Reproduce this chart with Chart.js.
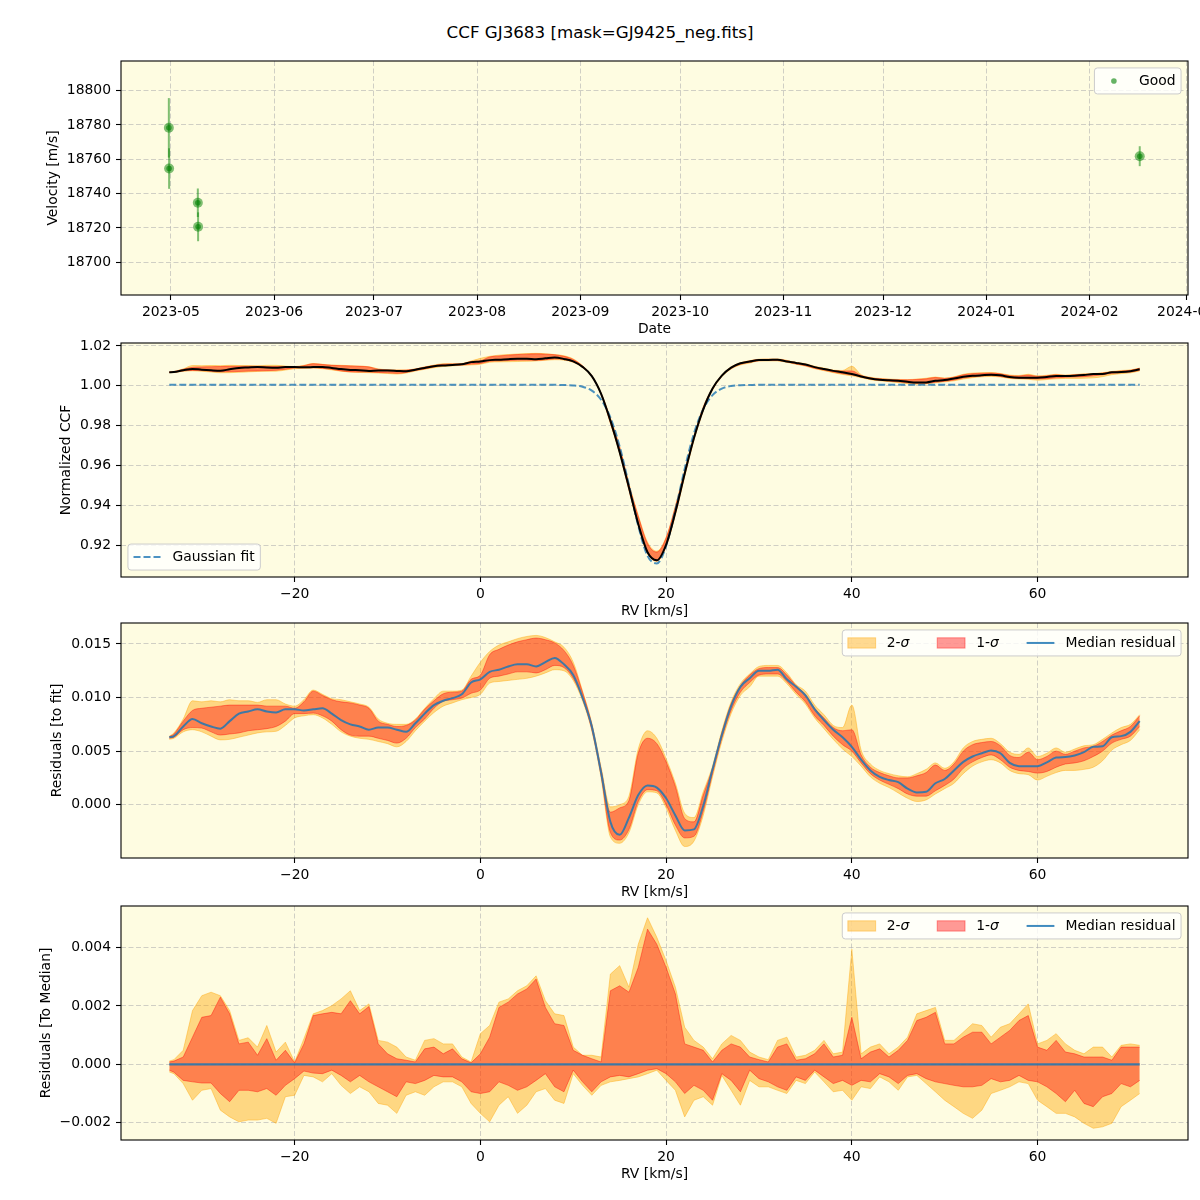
<!DOCTYPE html>
<html>
<head>
<meta charset="utf-8">
<script src="https://cdn.jsdelivr.net/npm/chart.js@4.4.1/dist/chart.umd.min.js"></script>
<style>
  html, body { margin: 0; padding: 0; background: #fff; }
  #page { position: relative; width: 1200px; height: 1200px; overflow: hidden; font-family: "DejaVu Sans", sans-serif; }
  #title { position: absolute; left: 0; top: 22px; width: 1200px; text-align: center; font-size: 16.7px; line-height: 20px; color: #000; }
  canvas { position: absolute; left: 0; }
</style>
</head>
<body>
<div id="page">
  <div id="title">CCF GJ3683 [mask=GJ9425_neg.fits]</div>
  <canvas id="velChart"></canvas>
  <canvas id="ccfChart"></canvas>
  <canvas id="resChart"></canvas>
  <canvas id="devChart"></canvas>
</div>
<script>
// ---- velocity panel ----
const velDates = ['2023-04-30T09:00:00Z', '2023-04-30T11:00:00Z', '2023-05-09T02:00:00Z', '2023-05-09T04:00:00Z', '2024-02-16T02:00:00Z'];
const velValues = [18778.3, 18754.6, 18734.7, 18720.7, 18761.8];
const velErrors = [17.3, 11.8, 8.3, 8.4, 5.8];
const velTicks = [18700, 18720, 18740, 18760, 18780, 18800];
const monthTicks = ['2023-05', '2023-06', '2023-07', '2023-08', '2023-09', '2023-10', '2023-11', '2023-12', '2024-01', '2024-02', '2024-03'];

// ---- RV grid (km/s) ----
const rv = [-33.5, -33, -32, -31, -30, -29, -28, -27, -26, -25,
  -24, -23, -22, -21, -20, -19, -18, -17, -16, -15,
  -14, -13, -12, -11, -10, -9, -8, -7, -6, -5,
  -4, -3, -2, -1, 0, 1, 2, 3, 4, 5,
  6, 7, 8, 9, 10, 11, 12, 13, 14, 15,
  16, 17, 18, 19, 20, 21, 22, 23, 24, 25,
  26, 27, 28, 29, 30, 31, 32, 33, 34, 35,
  36, 37, 38, 39, 40, 41, 42, 43, 44, 45,
  46, 47, 48, 49, 50, 51, 52, 53, 54, 55,
  56, 57, 58, 59, 60, 61, 62, 63, 64, 65,
  66, 67, 68, 69, 70, 71];

// Gaussian fit of the CCF
const gaussFit = [1.0005, 1.0005, 1.0005, 1.0005, 1.0005, 1.0005, 1.0005, 1.0005, 1.0005, 1.0005,
  1.0005, 1.0005, 1.0005, 1.0005, 1.0005, 1.0005, 1.0005, 1.0005, 1.0005, 1.0005,
  1.0005, 1.0005, 1.0005, 1.0005, 1.0005, 1.0005, 1.0005, 1.0005, 1.0005, 1.0005,
  1.0005, 1.0005, 1.0005, 1.0005, 1.0005, 1.0005, 1.0005, 1.0005, 1.0005, 1.0005,
  1.0005, 1.0005, 1.0005, 1.0004, 1.0002, 0.9995, 0.9976, 0.9930, 0.9841, 0.9695,
  0.9501, 0.9297, 0.9146, 0.9108, 0.9196, 0.9376, 0.9583, 0.9761, 0.9883, 0.9953,
  0.9986, 0.9999, 1.0003, 1.0004, 1.0005, 1.0005, 1.0005, 1.0005, 1.0005, 1.0005,
  1.0005, 1.0005, 1.0005, 1.0005, 1.0005, 1.0005, 1.0005, 1.0005, 1.0005, 1.0005,
  1.0005, 1.0005, 1.0005, 1.0005, 1.0005, 1.0005, 1.0005, 1.0005, 1.0005, 1.0005,
  1.0005, 1.0005, 1.0005, 1.0005, 1.0005, 1.0005, 1.0005, 1.0005, 1.0005, 1.0005,
  1.0005, 1.0005, 1.0005, 1.0005, 1.0005, 1.0005];

// residuals to the fit: median, 1-sigma and 2-sigma envelopes
const resMedian = [0.0063, 0.0064, 0.0073, 0.0080, 0.0076, 0.0073, 0.0071, 0.0078, 0.0085, 0.0087,
  0.0089, 0.0087, 0.0086, 0.0089, 0.0089, 0.0088, 0.0089, 0.0090, 0.0085, 0.0079,
  0.0075, 0.0073, 0.0070, 0.0072, 0.0072, 0.0070, 0.0068, 0.0076, 0.0085, 0.0093,
  0.0097, 0.00995, 0.0103, 0.0114, 0.0117, 0.0124, 0.0126, 0.0129, 0.0131, 0.0131,
  0.0129, 0.0133, 0.0137, 0.0131, 0.0121, 0.0100, 0.0073, 0.0030, -0.0016, -0.0028,
  -0.0012, 0.0009, 0.0018, 0.0016, 0.0006, -0.0010, -0.0024, -0.0023, -0.0001, 0.0033,
  0.0065, 0.0092, 0.0110, 0.0118, 0.0125, 0.0125, 0.0126, 0.0117, 0.0110, 0.0102,
  0.0089, 0.0079, 0.0070, 0.0063, 0.0054, 0.0042, 0.0032, 0.0026, 0.0023, 0.0021,
  0.0015, 0.00115, 0.0012, 0.0020, 0.0024, 0.0032, 0.0040, 0.0045, 0.0048, 0.00505,
  0.0048, 0.0039, 0.0036, 0.0036, 0.0036, 0.00395, 0.0044, 0.00445, 0.0046, 0.0049,
  0.0054, 0.00545, 0.0063, 0.0064, 0.0068, 0.0078];
const res2Hi = [0.0064, 0.0067, 0.0080, 0.0097, 0.0096, 0.0097, 0.0096, 0.0098, 0.0097, 0.0097,
  0.00955, 0.0098, 0.0098, 0.0094, 0.0092, 0.0098, 0.0107, 0.0103, 0.0099, 0.0098,
  0.0096, 0.0094, 0.0091, 0.0080, 0.0076, 0.0075, 0.0075, 0.0080, 0.0090, 0.0099,
  0.0106, 0.0106, 0.0107, 0.0120, 0.0133, 0.0143, 0.0149, 0.0152, 0.0155, 0.0157,
  0.0158, 0.0156, 0.0152, 0.0147, 0.0133, 0.0106, 0.0076, 0.0035, -0.0002, 0.0000,
  0.0008, 0.0052, 0.0069, 0.0062, 0.0043, 0.0020, -0.0008, -0.0012, 0.0012, 0.0036,
  0.0069, 0.0096, 0.0113, 0.0122, 0.0129, 0.0130, 0.0130, 0.0123, 0.0112, 0.0106,
  0.0093, 0.0084, 0.0074, 0.0072, 0.0093, 0.0051, 0.0038, 0.0032, 0.0029, 0.0027,
  0.0026, 0.0029, 0.0033, 0.0039, 0.0034, 0.0040, 0.0053, 0.0059, 0.0061, 0.0062,
  0.0057, 0.0049, 0.0047, 0.0053, 0.0045, 0.0048, 0.0053, 0.0049, 0.0052, 0.0055,
  0.0056, 0.0061, 0.0067, 0.0072, 0.0075, 0.0084];
const res1Hi = [0.00635, 0.0066, 0.0078, 0.0088, 0.0090, 0.0091, 0.0092, 0.0093, 0.0093, 0.0093,
  0.0093, 0.0092, 0.0092, 0.0092, 0.0090, 0.0096, 0.0106, 0.0102, 0.0098, 0.0096,
  0.0095, 0.0093, 0.0090, 0.0078, 0.0075, 0.0073, 0.0074, 0.0079, 0.0089, 0.0097,
  0.01035, 0.0105, 0.0106, 0.0117, 0.0121, 0.0140, 0.0145, 0.0149, 0.0152, 0.0154,
  0.01555, 0.0154, 0.0151, 0.0144, 0.0130, 0.0105, 0.0075, 0.0033, -0.0007, -0.0003,
  0.0004, 0.0048, 0.0062, 0.0057, 0.0040, 0.0017, -0.0013, -0.0016, 0.0009, 0.0034,
  0.0067, 0.0094, 0.0111, 0.0121, 0.0127, 0.0128, 0.0128, 0.0121, 0.0111, 0.0103,
  0.0090, 0.0081, 0.0072, 0.0069, 0.0070, 0.00465, 0.0035, 0.0030, 0.0027, 0.0025,
  0.0025, 0.0027, 0.0030, 0.0037, 0.0032, 0.0038, 0.0050, 0.0056, 0.0058, 0.0059,
  0.0055, 0.0046, 0.0044, 0.0049, 0.0042, 0.0045, 0.0050, 0.0047, 0.0050, 0.0053,
  0.00545, 0.0059, 0.0065, 0.0069, 0.0073, 0.0083];
const res1Lo = [0.0062, 0.0063, 0.0070, 0.0072, 0.00715, 0.0068, 0.0065, 0.0066, 0.0067, 0.0069,
  0.0070, 0.0071, 0.0073, 0.0078, 0.0085, 0.0085, 0.00855, 0.0083, 0.0078, 0.0070,
  0.0065, 0.0064, 0.0064, 0.0062, 0.0060, 0.00575, 0.0062, 0.0072, 0.0080, 0.0090,
  0.00965, 0.0098, 0.00995, 0.0104, 0.0107, 0.0118, 0.0120, 0.0122, 0.0124, 0.0124,
  0.0123, 0.0126, 0.0130, 0.0128, 0.0118, 0.0099, 0.0070, 0.0027, -0.0026, -0.0033,
  -0.0023, 0.0003, 0.0014, 0.0013, 0.0000, -0.0019, -0.0031, -0.00295, -0.0006, 0.0029,
  0.0062, 0.0088, 0.0105, 0.0114, 0.0121, 0.0122, 0.0122, 0.0115, 0.0105, 0.0096,
  0.0083, 0.0074, 0.0064, 0.0056, 0.0050, 0.0039, 0.0029, 0.0023, 0.0019, 0.0015,
  0.0010, 0.0008, 0.0008, 0.0013, 0.0018, 0.0024, 0.0034, 0.0040, 0.0044, 0.00465,
  0.0042, 0.0035, 0.0032, 0.0031, 0.00295, 0.0031, 0.0035, 0.0038, 0.0039, 0.0041,
  0.0045, 0.0050, 0.00575, 0.0061, 0.0064, 0.0073];
const res2Lo = [0.0061, 0.0062, 0.0068, 0.0070, 0.0068, 0.0064, 0.00605, 0.0061, 0.0063, 0.0065,
  0.0067, 0.0068, 0.00685, 0.0074, 0.0081, 0.0083, 0.0084, 0.0081, 0.0075, 0.0068,
  0.0064, 0.0062, 0.0061, 0.0059, 0.0057, 0.0054, 0.0059, 0.0069, 0.0078, 0.0086,
  0.0092, 0.0095, 0.0098, 0.0100, 0.0103, 0.01135, 0.0115, 0.0116, 0.0117, 0.0118,
  0.0120, 0.0123, 0.0126, 0.0125, 0.0116, 0.0097, 0.0069, 0.0025, -0.0030, -0.0036,
  -0.0026, 0.0000, 0.0012, 0.0011, -0.0003, -0.0024, -0.0039, -0.0034, -0.0010, 0.0026,
  0.0059, 0.0085, 0.0102, 0.0110, 0.0120, 0.0120, 0.0120, 0.0113, 0.0103, 0.0094,
  0.0081, 0.0071, 0.0061, 0.0052, 0.0045, 0.0036, 0.0026, 0.0020, 0.0016, 0.0011,
  0.0006, 0.0003, 0.00045, 0.0010, 0.0015, 0.0020, 0.0029, 0.0036, 0.0040, 0.0042,
  0.0039, 0.0032, 0.0029, 0.0028, 0.0023, 0.00265, 0.0030, 0.0032, 0.0032, 0.0033,
  0.0035, 0.0041, 0.0051, 0.0056, 0.0060, 0.0070];

// residuals to the median: envelopes around zero
const devLine = [0, 0];
const devLineRv = [-33.5, 71];
const dev2Hi = [0.00011, 0.00016, 0.00048, 0.00184, 0.00235, 0.00247, 0.00235, 0.00184, 0.00082, 0.00091,
  0.00059, 0.00133, 0.00042, 0.00076, 0.00008, 0.00088, 0.00173, 0.00184, 0.00201, 0.00224,
  0.00252, 0.00184, 0.00207, 0.00082, 0.00076, 0.00059, 0.00025, 0.00014, 0.00082, 0.00088,
  0.00070, 0.00070, 0.00025, 0.00008, 0.00105, 0.00133, 0.00213, 0.00224, 0.00252, 0.00269,
  0.00303, 0.00218, 0.00173, 0.00167, 0.00059, 0.00031, 0.00031, 0.00025, 0.00309, 0.00338,
  0.00264, 0.00411, 0.00502, 0.00435, 0.00355, 0.00264, 0.00127, 0.00082, 0.00059, 0.00019,
  0.00070, 0.00099, 0.00082, 0.00042, 0.00025, 0.00016, 0.00082, 0.00093, 0.00025, 0.00031,
  0.00048, 0.00082, 0.00036, 0.00042, 0.00394, 0.00036, 0.00059, 0.00070, 0.00036, 0.00059,
  0.00093, 0.00173, 0.00184, 0.00195, 0.00082, 0.00082, 0.00110, 0.00139, 0.00133, 0.00093,
  0.00127, 0.00139, 0.00173, 0.00207, 0.00070, 0.00082, 0.00105, 0.00070, 0.00048, 0.00036,
  0.00059, 0.00059, 0.00025, 0.00065, 0.00070, 0.00065];
const dev1Hi = [0.00008, 0.00011, 0.00025, 0.00093, 0.00161, 0.00167, 0.00230, 0.00173, 0.00070, 0.00076,
  0.00031, 0.00088, 0.00014, 0.00048, 0.00005, 0.00070, 0.00167, 0.00173, 0.00178, 0.00173,
  0.00218, 0.00173, 0.00198, 0.00070, 0.00036, 0.00019, 0.00014, 0.00008, 0.00053, 0.00059,
  0.00036, 0.00053, 0.00019, 0.00005, 0.00036, 0.00093, 0.00195, 0.00213, 0.00241, 0.00258,
  0.00292, 0.00195, 0.00139, 0.00133, 0.00048, 0.00031, 0.00019, 0.00008, 0.00252, 0.00269,
  0.00247, 0.00332, 0.00463, 0.00411, 0.00332, 0.00241, 0.00070, 0.00059, 0.00048, 0.00008,
  0.00048, 0.00070, 0.00059, 0.00025, 0.00016, 0.00008, 0.00059, 0.00070, 0.00014, 0.00019,
  0.00036, 0.00070, 0.00025, 0.00031, 0.00161, 0.00019, 0.00042, 0.00053, 0.00025, 0.00048,
  0.00082, 0.00150, 0.00161, 0.00178, 0.00070, 0.00070, 0.00093, 0.00110, 0.00110, 0.00070,
  0.00093, 0.00116, 0.00150, 0.00167, 0.00059, 0.00048, 0.00082, 0.00042, 0.00036, 0.00025,
  0.00025, 0.00025, 0.00014, 0.00059, 0.00059, 0.00059];
const dev1Lo = [-0.00020, -0.00027, -0.00055, -0.00060, -0.00064, -0.00064, -0.00100, -0.00128, -0.00089, -0.00089,
  -0.00094, -0.00083, -0.00106, -0.00072, -0.00049, -0.00023, -0.00030, -0.00032, -0.00020, -0.00038,
  -0.00060, -0.00038, -0.00060, -0.00077, -0.00094, -0.00111, -0.00060, -0.00066, -0.00055, -0.00038,
  -0.00043, -0.00043, -0.00060, -0.00094, -0.00100, -0.00094, -0.00060, -0.00072, -0.00089, -0.00077,
  -0.00055, -0.00032, -0.00077, -0.00094, -0.00020, -0.00060, -0.00094, -0.00060, -0.00043, -0.00038,
  -0.00043, -0.00032, -0.00020, -0.00015, -0.00032, -0.00060, -0.00100, -0.00072, -0.00089, -0.00123,
  -0.00032, -0.00055, -0.00094, -0.00020, -0.00049, -0.00060, -0.00077, -0.00089, -0.00043, -0.00055,
  -0.00020, -0.00043, -0.00066, -0.00055, -0.00072, -0.00055, -0.00060, -0.00032, -0.00043, -0.00066,
  -0.00038, -0.00032, -0.00049, -0.00060, -0.00066, -0.00072, -0.00077, -0.00077, -0.00072, -0.00049,
  -0.00060, -0.00055, -0.00038, -0.00055, -0.00060, -0.00077, -0.00100, -0.00128, -0.00089, -0.00134,
  -0.00145, -0.00111, -0.00100, -0.00066, -0.00077, -0.00055];
const dev2Lo = [-0.00026, -0.00032, -0.00066, -0.00123, -0.00089, -0.00083, -0.00157, -0.00180, -0.00197, -0.00191,
  -0.00191, -0.00185, -0.00202, -0.00111, -0.00106, -0.00038, -0.00043, -0.00060, -0.00032, -0.00072,
  -0.00100, -0.00077, -0.00094, -0.00134, -0.00140, -0.00168, -0.00106, -0.00094, -0.00106, -0.00077,
  -0.00060, -0.00060, -0.00077, -0.00134, -0.00168, -0.00197, -0.00140, -0.00111, -0.00168, -0.00140,
  -0.00094, -0.00083, -0.00123, -0.00134, -0.00032, -0.00072, -0.00106, -0.00072, -0.00060, -0.00055,
  -0.00049, -0.00043, -0.00032, -0.00020, -0.00055, -0.00089, -0.00180, -0.00123, -0.00111, -0.00140,
  -0.00038, -0.00089, -0.00140, -0.00055, -0.00077, -0.00077, -0.00089, -0.00100, -0.00055, -0.00066,
  -0.00026, -0.00060, -0.00094, -0.00089, -0.00123, -0.00077, -0.00083, -0.00043, -0.00060, -0.00089,
  -0.00043, -0.00038, -0.00066, -0.00094, -0.00123, -0.00145, -0.00168, -0.00185, -0.00157, -0.00100,
  -0.00089, -0.00077, -0.00060, -0.00066, -0.00123, -0.00145, -0.00168, -0.00168, -0.00180, -0.00202,
  -0.00219, -0.00214, -0.00202, -0.00145, -0.00123, -0.00100];

const ccfTicks = [0.92, 0.94, 0.96, 0.98, 1.00, 1.02];
const resTicks = [0.000, 0.005, 0.010, 0.015];
const devTicks = [-0.002, 0.000, 0.002, 0.004];
const rvTicks = [-20, 0, 20, 40, 60];

// ---- look ----
const FONT = '"DejaVu Sans", sans-serif';
const FS = 13.9;
const AXES_BG = '#fefce1';
const GRID = 'rgba(176,176,176,0.6)';
const ORANGE = 'rgba(255,165,0,0.42)';
const RED = 'rgba(255,0,0,0.4)';
const BLUE = 'rgba(31,119,180,0.85)';
const GREEN = 'rgba(0,128,0,0.5)';
const PLOT_LEFT = 121;
const PLOT_RIGHT = 1188;
const X_AXIS_H = 43;

const minus = s => String(s).replace('-', '\u2212');
const day = s => Date.parse(s) / 864e5;
const pts = (xs, ys) => xs.map((x, i) => ({ x, y: ys[i] }));

const axesFrame = {
  id: 'axesFrame',
  beforeDraw(chart) {
    const { ctx, chartArea: a } = chart;
    ctx.save();
    ctx.fillStyle = AXES_BG;
    ctx.fillRect(a.left, a.top, a.right - a.left, a.bottom - a.top);
    ctx.restore();
  },
  afterDatasetsDraw(chart) {
    const { ctx, chartArea: a } = chart;
    ctx.save();
    ctx.strokeStyle = '#000';
    ctx.lineWidth = 1.1;
    ctx.strokeRect(a.left, a.top, a.right - a.left, a.bottom - a.top);
    ctx.restore();
  }
};

function labelWidth(ctx, it) {
  ctx.font = FS + 'px ' + FONT;
  let w = ctx.measureText(it.text).width;
  if (it.italic) {
    ctx.font = 'italic ' + FS + 'px ' + FONT;
    w += ctx.measureText(it.italic).width;
  }
  return w;
}

const boxLegend = {
  id: 'boxLegend',
  afterDraw(chart, args, opts) {
    if (!opts.items) return;
    const { ctx, chartArea: a } = chart;
    const pad = 0.4 * FS, hl = 2 * FS, htp = 0.8 * FS, colsp = 2 * FS, inset = 0.5 * FS;
    ctx.save();
    const widths = opts.items.map(it => labelWidth(ctx, it));
    const w = 2 * pad + widths.reduce((s, x) => s + hl + htp + x, 0) + colsp * (opts.items.length - 1);
    const h = 26;
    const x0 = opts.loc === 'll' ? a.left + inset : a.right - inset - w;
    const y0 = opts.loc === 'll' ? a.bottom - inset - h : a.top + inset;
    const r = 3;
    ctx.beginPath();
    ctx.moveTo(x0 + r, y0);
    ctx.arcTo(x0 + w, y0, x0 + w, y0 + h, r);
    ctx.arcTo(x0 + w, y0 + h, x0, y0 + h, r);
    ctx.arcTo(x0, y0 + h, x0, y0, r);
    ctx.arcTo(x0, y0, x0 + w, y0, r);
    ctx.closePath();
    ctx.fillStyle = 'rgba(255,255,255,0.8)';
    ctx.fill();
    ctx.strokeStyle = '#cccccc';
    ctx.lineWidth = 1;
    ctx.stroke();

    const cy = y0 + h / 2;
    let x = x0 + pad;
    opts.items.forEach((it, i) => {
      ctx.setLineDash([]);
      if (it.handle === 'patch') {
        ctx.fillStyle = it.color;
        ctx.strokeStyle = it.color;
        ctx.lineWidth = 1;
        ctx.fillRect(x, cy - 0.37 * FS, hl, 0.74 * FS);
        ctx.strokeRect(x, cy - 0.37 * FS, hl, 0.74 * FS);
      } else if (it.handle === 'line' || it.handle === 'dash') {
        ctx.strokeStyle = it.color;
        ctx.lineWidth = 2;
        if (it.handle === 'dash') ctx.setLineDash([7, 3]);
        ctx.beginPath();
        ctx.moveTo(x, cy);
        ctx.lineTo(x + hl, cy);
        ctx.stroke();
      } else if (it.handle === 'dot') {
        ctx.fillStyle = it.color;
        ctx.beginPath();
        ctx.arc(x + hl / 2, cy, 2.8, 0, Math.PI * 2);
        ctx.fill();
      }
      let tx = x + hl + htp;
      ctx.fillStyle = '#000';
      ctx.textBaseline = 'middle';
      ctx.textAlign = 'left';
      ctx.font = FS + 'px ' + FONT;
      ctx.fillText(it.text, tx, cy);
      if (it.italic) {
        tx += ctx.measureText(it.text).width;
        ctx.font = 'italic ' + FS + 'px ' + FONT;
        ctx.fillText(it.italic, tx, cy);
      }
      x += hl + htp + widths[i] + colsp;
    });
    ctx.restore();
  }
};

const gridOpts = { color: GRID, lineWidth: 1, drawTicks: true, tickLength: 5, tickColor: '#000', tickWidth: 1.1 };
const borderOpts = { display: false, dash: [5, 2.5] };
const tickFont = { family: FONT, size: FS };
const titleFont = { family: FONT, size: FS, lineHeight: 1.2 };

function xAxis(min, max, tickVals, fmt, title) {
  return {
    type: 'linear', position: 'bottom', min, max,
    afterBuildTicks: s => { s.ticks = tickVals.map(v => ({ value: v })); },
    afterFit: s => { s.height = X_AXIS_H; s.paddingLeft = 0; s.paddingRight = 0; },
    ticks: { callback: fmt, color: '#000', font: tickFont, padding: 4, autoSkip: false, maxRotation: 0, minRotation: 0 },
    grid: gridOpts, border: borderOpts,
    title: { display: true, text: title, color: '#000', font: titleFont, padding: 0 }
  };
}

function yAxis(min, max, tickVals, fmt, title, width) {
  return {
    type: 'linear', position: 'left', min, max,
    afterBuildTicks: s => { s.ticks = tickVals.map(v => ({ value: v })); },
    afterFit: s => { s.width = width; s.paddingTop = 0; s.paddingBottom = 0; },
    ticks: { callback: fmt, color: '#000', font: tickFont, padding: 5, autoSkip: false },
    grid: gridOpts, border: borderOpts,
    title: { display: true, text: title, color: '#000', font: titleFont, padding: 0 }
  };
}

function makeChart(id, top, bottom, yTitleX, type, datasets, scales, legend) {
  const canvasTop = top - 12;
  const height = bottom - canvasTop + X_AXIS_H;
  const el = document.getElementById(id);
  el.width = 1200;
  el.height = height;
  el.style.top = canvasTop + 'px';
  el.style.width = '1200px';
  el.style.height = height + 'px';
  const padLeft = yTitleX - FS * 1.2 / 2;
  scales.y = yAxis(scales.y.min, scales.y.max, scales.y.ticks, scales.y.fmt, scales.y.title, PLOT_LEFT - padLeft);
  return new Chart(el, {
    type,
    data: { datasets },
    options: {
      responsive: false,
      devicePixelRatio: 1,
      animation: false,
      parsing: false,
      layout: { padding: { left: padLeft, right: 1200 - PLOT_RIGHT, top: top - canvasTop, bottom: 0 } },
      plugins: { legend: { display: false }, tooltip: { enabled: false }, boxLegend: legend },
      scales
    },
    plugins: [axesFrame, boxLegend]
  });
}

// smooth: monotone interpolation between the sampled points
function band(ys, color, fill, smooth) {
  return {
    type: 'line', data: pts(rv, ys), borderColor: color, backgroundColor: color, borderWidth: 1,
    pointRadius: 0, tension: 0, cubicInterpolationMode: smooth ? 'monotone' : 'default', fill
  };
}

function curve(xs, ys, color, width, smooth, dash) {
  return {
    type: 'line', data: pts(xs, ys), borderColor: color, borderWidth: width, borderDash: dash || [],
    pointRadius: 0, tension: 0, cubicInterpolationMode: smooth ? 'monotone' : 'default', fill: false
  };
}

// ---- panel 1: velocities ----
const velX = velDates.map(day);
const errorBars = velX.map((x, i) => ({
  type: 'line', showLine: true,
  data: [{ x, y: velValues[i] - velErrors[i] }, { x, y: velValues[i] + velErrors[i] }],
  borderColor: GREEN, borderWidth: 2, pointRadius: 0
}));
makeChart('velChart', 61, 295, 53, 'scatter', [
  { data: pts(velX, velValues), pointRadius: 2.8, pointBackgroundColor: 'rgba(0,128,0,0.6)', pointBorderWidth: 0 },
  { data: pts(velX, velValues), pointRadius: 5, pointBackgroundColor: GREEN, pointBorderWidth: 0 },
  ...errorBars
], {
  x: xAxis(day('2023-04-16T00:00:00Z'), day('2024-03-01T14:00:00Z'), monthTicks.map(m => day(m + '-01T00:00:00Z')),
    (v, i) => monthTicks[i], 'Date'),
  y: { min: 18681, max: 18817.2, ticks: velTicks, fmt: v => String(v), title: 'Velocity [m/s]' }
}, { loc: 'ur', items: [{ handle: 'dot', color: 'rgba(0,128,0,0.6)', text: 'Good' }] });

// ---- panel 2: CCF ----
const ccfMedian = gaussFit.map((f, i) => f + resMedian[i]);
const ccf1Hi = gaussFit.map((f, i) => f + res1Hi[i]);
const ccf1Lo = gaussFit.map((f, i) => f + res1Lo[i]);
const ccf2Hi = gaussFit.map((f, i) => f + res2Hi[i]);
const ccf2Lo = gaussFit.map((f, i) => f + res2Lo[i]);

makeChart('ccfChart', 343, 577, 66, 'line', [
  curve(rv, ccfMedian, '#000', 2, true),
  curve(rv, gaussFit, 'rgba(31,119,180,0.8)', 2, true, [7, 3]),
  band(ccf1Hi, RED, '+1', true), band(ccf1Lo, RED, false, true),
  band(ccf2Hi, ORANGE, '+1', true), band(ccf2Lo, ORANGE, false, true)
], {
  x: xAxis(-38.7, 76.2, rvTicks, v => minus(v), 'RV [km/s]'),
  y: { min: 0.904, max: 1.0215, ticks: ccfTicks, fmt: v => v.toFixed(2), title: 'Normalized CCF' }
}, { loc: 'll', items: [{ handle: 'dash', color: 'rgba(31,119,180,0.8)', text: 'Gaussian fit' }] });

const sigmaLegend = [
  { handle: 'patch', color: ORANGE, text: '2-', italic: 'σ' },
  { handle: 'patch', color: RED, text: '1-', italic: 'σ' },
  { handle: 'line', color: BLUE, text: 'Median residual' }
];

// ---- panel 3: residuals to fit ----
makeChart('resChart', 623, 858, 57, 'line', [
  curve(rv, resMedian, BLUE, 2, true),
  band(res1Hi, RED, '+1', true), band(res1Lo, RED, false, true),
  band(res2Hi, ORANGE, '+1', true), band(res2Lo, ORANGE, false, true)
], {
  x: xAxis(-38.7, 76.2, rvTicks, v => minus(v), 'RV [km/s]'),
  y: { min: -0.004975, max: 0.01696, ticks: resTicks, fmt: v => minus(v.toFixed(3)), title: 'Residuals [to fit]' }
}, { loc: 'ur', items: sigmaLegend });

// ---- panel 4: residuals to median ----
makeChart('devChart', 906, 1140, 46, 'line', [
  curve(devLineRv, devLine, BLUE, 2.2, false),
  band(dev1Hi, RED, '+1', false), band(dev1Lo, RED, false, false),
  band(dev2Hi, ORANGE, '+1', false), band(dev2Lo, ORANGE, false, false)
], {
  x: xAxis(-38.7, 76.2, rvTicks, v => minus(v), 'RV [km/s]'),
  y: { min: -0.002592, max: 0.005423, ticks: devTicks, fmt: v => minus(v.toFixed(3)), title: 'Residuals [To Median]' }
}, { loc: 'ur', items: sigmaLegend });
</script>
</body>
</html>
